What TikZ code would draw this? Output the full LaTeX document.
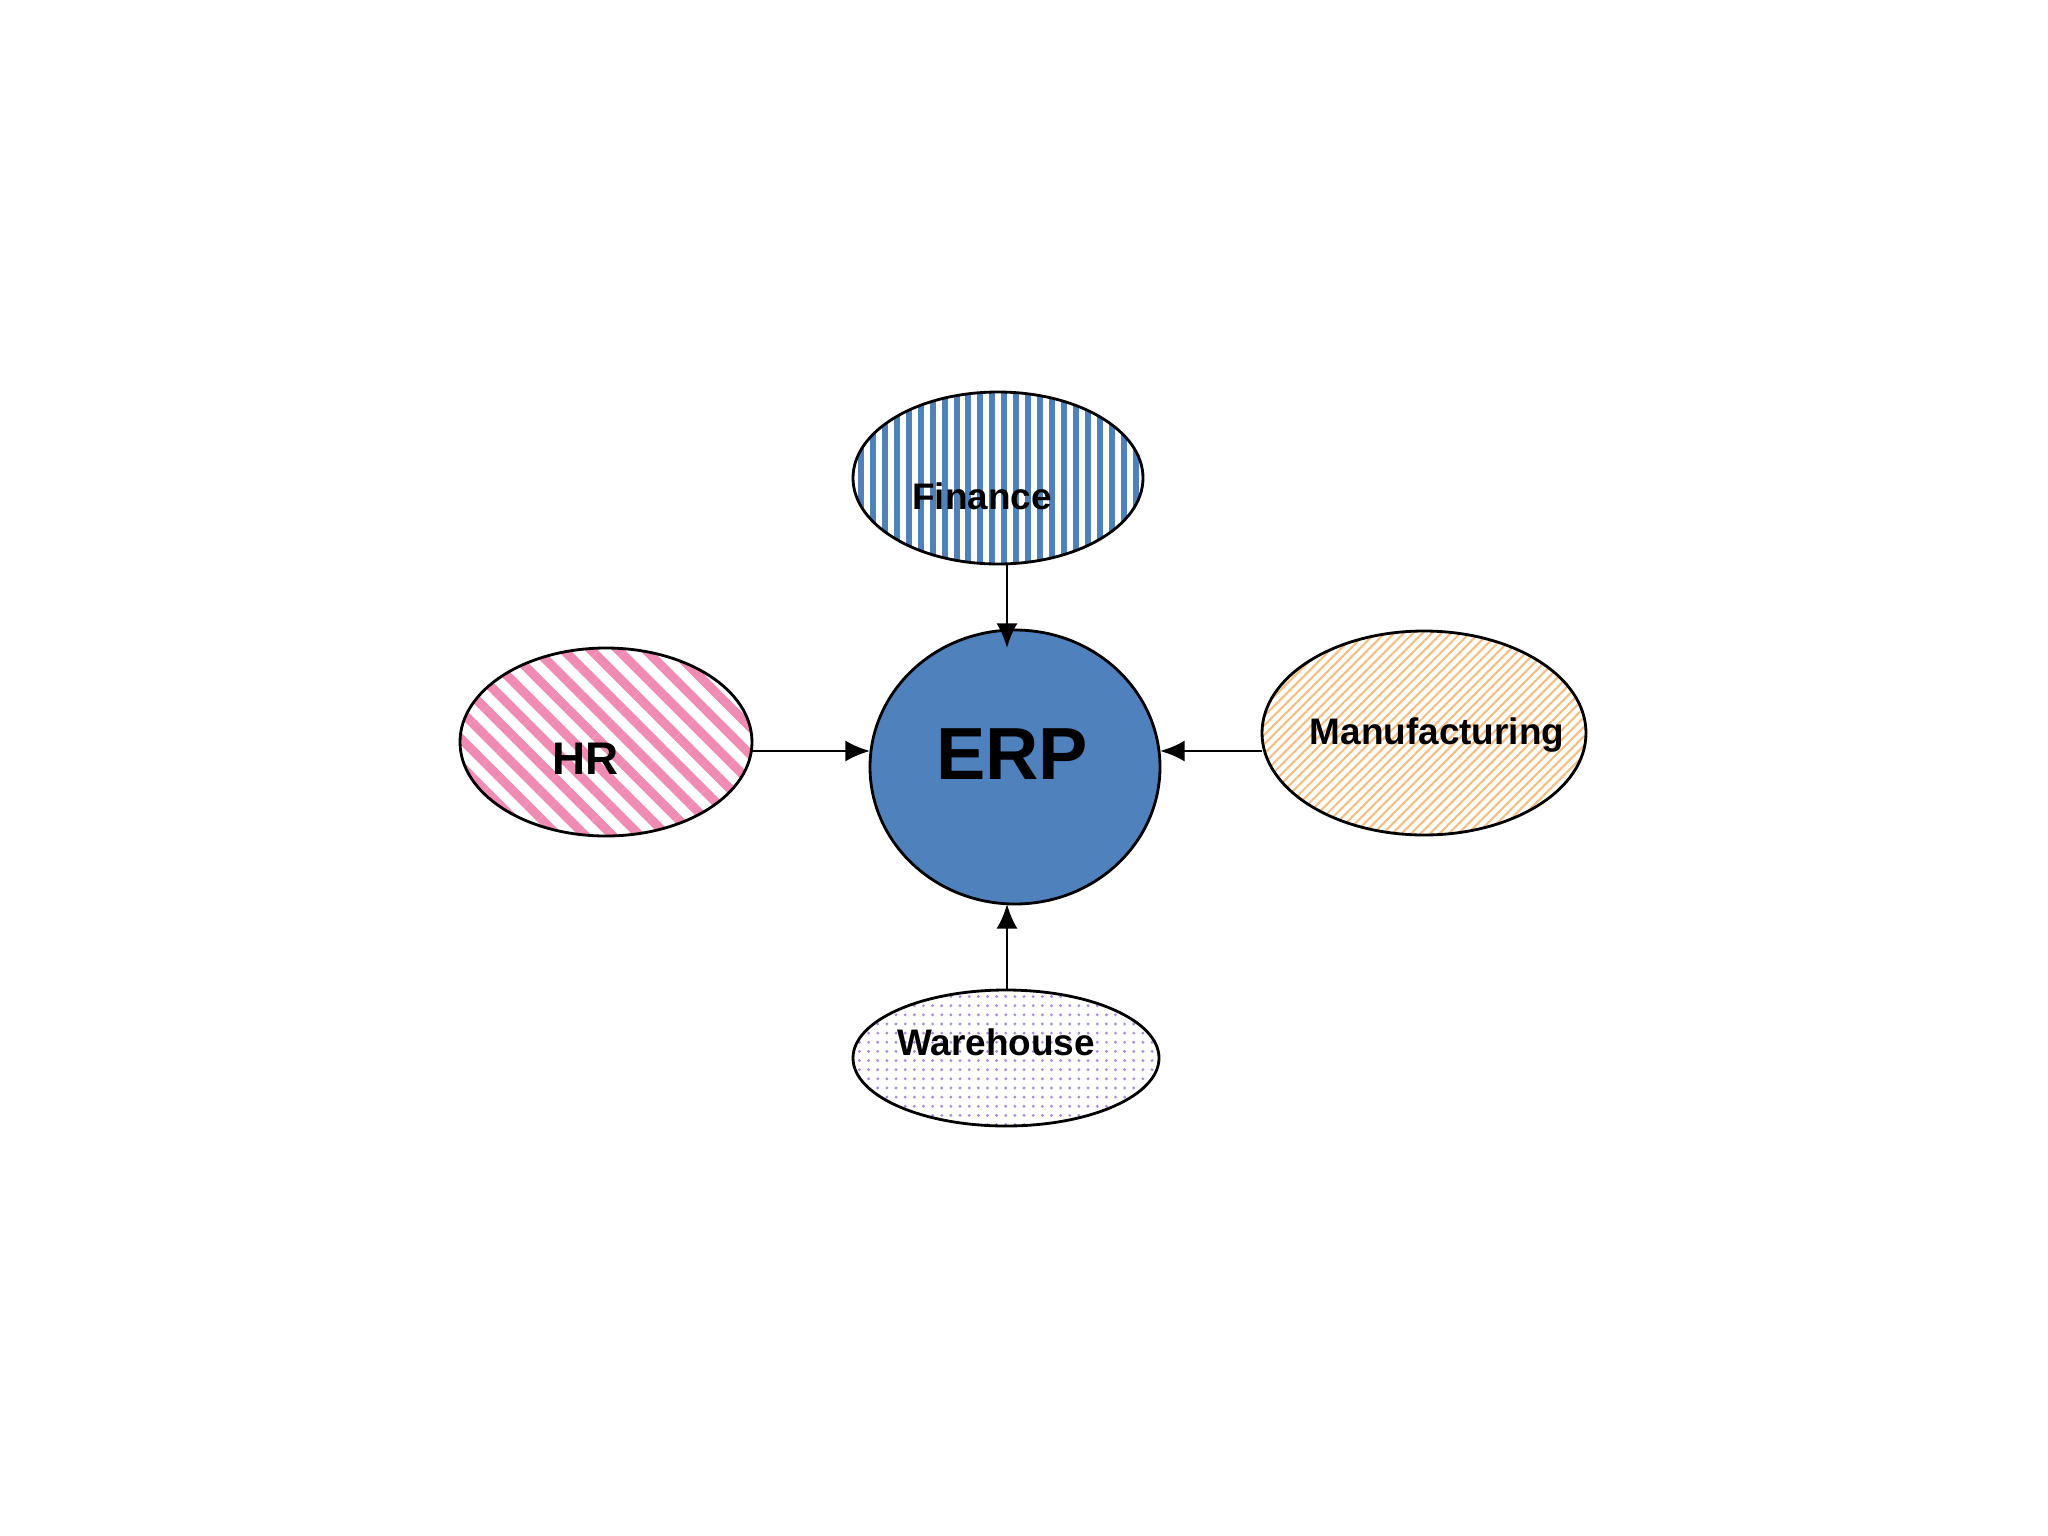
\documentclass[tikz,border=0pt]{standalone}
\usepackage{fontspec}
\setmainfont{Liberation Sans}
\usetikzlibrary{shapes.geometric,patterns.meta,arrows.meta}
\begin{document}
\begin{tikzpicture}[x=0.01cm,y=-0.01cm,
  blob/.style={ellipse,draw=black,line width=0.8pt,inner sep=0pt},
  lbl/.style={font=\bfseries,inner sep=0pt},
  arr/.style={-{Latex[length=7pt,width=6pt]},line width=0.8pt}]
\useasboundingbox[fill=white] (0,0) rectangle (2048,1536);
\node[blob,fill={rgb,255:red,79;green,129;blue,189},minimum width=290\pgflinewidth*0+290*0.01cm,minimum height=274*0.01cm] (erp) at (1015,767) {};
\node[blob,minimum width=290*0.01cm,minimum height=172*0.01cm,
  pattern={Lines[angle=90,distance=3.4pt,line width=1.7pt]},pattern color={rgb,255:red,79;green,129;blue,189}] (fin) at (998,478) {};
\node[blob,minimum width=292*0.01cm,minimum height=188*0.01cm,
  pattern={Lines[angle=-45,distance=5.5pt,line width=2.6pt]},pattern color={rgb,255:red,240;green,140;blue,180}] (hr) at (606,742) {};
\node[blob,minimum width=324*0.01cm,minimum height=204*0.01cm,
  pattern={Lines[angle=45,distance=1.9pt,line width=0.6pt]},pattern color={rgb,255:red,245;green,190;blue,130}] (man) at (1424,733) {};
\node[blob,minimum width=306*0.01cm,minimum height=136*0.01cm,
  pattern={Dots[distance=2.6pt,radius=0.45pt]},pattern color={rgb,255:red,170;green,140;blue,220}] (wh) at (1006,1058) {};
\node[lbl,font=\bfseries\fontsize{21}{24}\selectfont] (terp) at (1012,754) {ERP};
\node[lbl,font=\bfseries\fontsize{10.5}{12}\selectfont] (tfin) at (982,496) {Finance};
\node[lbl,font=\bfseries\fontsize{13}{15}\selectfont] (thr) at (586,759) {HR};
\node[lbl,font=\bfseries\fontsize{10.5}{12}\selectfont] (tman) at (1437,735) {Manufacturing};
\node[lbl,font=\bfseries\fontsize{10.5}{12}\selectfont] (twh) at (996,1042) {Warehouse};
\coordinate (a1) at (1007,564); \coordinate (b1) at (1007,648);
\coordinate (a2) at (752,751); \coordinate (b2) at (870,751);
\coordinate (a3) at (1262,751); \coordinate (b3) at (1160,751);
\coordinate (a4) at (1007,989); \coordinate (b4) at (1007,904);
\draw[arr] (a1) -- (b1);
\draw[arr] (a2) -- (b2);
\draw[arr] (a3) -- (b3);
\draw[arr] (a4) -- (b4);
\end{tikzpicture}
\end{document}
